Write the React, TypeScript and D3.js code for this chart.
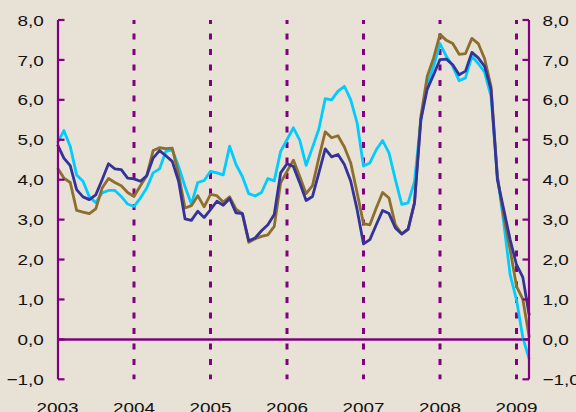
import React from "react";
import * as d3 from "d3";

const years = ["2003", "2004", "2005", "2006", "2007", "2008", "2009"];
const yTicks = [-1, 0, 1, 2, 3, 4, 5, 6, 7, 8];

const seriesCyan = [
  4.92, 5.23, 4.83, 4.12, 3.96, 3.57, 3.42, 3.67, 3.73, 3.73, 3.58, 3.39,
  3.33, 3.54, 3.79, 4.17, 4.27, 4.71, 4.75, 4.33, 3.83, 3.39, 3.93, 3.98,
  4.21, 4.17, 4.12, 4.84, 4.38, 4.08, 3.65, 3.59, 3.68, 4.03, 3.97, 4.71,
  5.0, 5.3, 4.99, 4.36, 4.81, 5.27, 6.03, 6.0, 6.22, 6.34, 6.0, 5.42,
  4.34, 4.42, 4.75, 4.98, 4.67, 4.0, 3.38, 3.42, 3.95, 5.5, 6.38, 6.84,
  7.41, 7.09, 6.84, 6.48, 6.55, 7.09, 6.91, 6.69, 6.09, 4.09, 2.92, 1.62,
  0.99, 0.04, -0.5,
];

const seriesNavy = [
  4.88, 4.54, 4.35, 3.75, 3.57, 3.5, 3.62, 4.0, 4.4, 4.27, 4.25, 4.04,
  4.02, 3.96, 4.1, 4.54, 4.73, 4.6, 4.46, 3.96, 3.02, 2.98, 3.21, 3.05,
  3.25, 3.46, 3.36, 3.53, 3.17, 3.15, 2.47, 2.54, 2.72, 2.87, 3.13, 4.17,
  4.4, 4.33, 3.92, 3.48, 3.58, 4.17, 4.77, 4.57, 4.63, 4.38, 3.96, 3.25,
  2.39, 2.5, 2.87, 3.23, 3.15, 2.79, 2.64, 2.77, 3.42, 5.5, 6.27, 6.63,
  7.01, 7.02, 6.88, 6.63, 6.72, 7.19, 7.05, 6.84, 6.26, 4.0, 3.25, 2.5,
  1.87, 1.55, 0.6,
];

const seriesBrown = [
  4.29, 4.04, 3.93, 3.23, 3.19, 3.15, 3.27, 3.79, 4.03, 3.93, 3.85, 3.68,
  3.58, 3.85, 4.1, 4.73, 4.8, 4.78, 4.79, 4.13, 3.29, 3.35, 3.6, 3.32,
  3.63, 3.6, 3.44, 3.57, 3.26, 3.15, 2.43, 2.52, 2.58, 2.62, 2.83, 3.92,
  4.21, 4.49, 4.08, 3.65, 3.85, 4.55, 5.2, 5.05, 5.1, 4.82, 4.42, 3.67,
  2.9, 2.87, 3.29, 3.68, 3.54, 2.87, 2.64, 2.75, 3.42, 5.59, 6.59, 7.05,
  7.64, 7.49, 7.41, 7.14, 7.16, 7.54, 7.41, 7.03, 6.34, 4.09, 3.08, 2.25,
  1.33, 1.0, 0.05,
];

const W = 576;
const H = 412;
const PURPLE = "#800080";
const BG = "#E8E1D6";
const FONT = "Liberation Sans, Arial, sans-serif";
const FS = 15.5;
const SX = 1.22;

export default function App() {
  const n = seriesCyan.length;
  const x = d3.scaleLinear().domain([0, n - 1]).range([57.5, 529.25]);
  const y = d3.scaleLinear().domain([-1, 8]).range([379.3, 20]);
  const xl = 58;
  const xr = 529;

  const line = d3
    .line<number>()
    .x((_, i) => x(i))
    .y((d) => y(d));

  const series = [
    { data: seriesCyan, color: "#00CCFF" },
    { data: seriesBrown, color: "#8C6E2D" },
    { data: seriesNavy, color: "#333399" },
  ];

  return (
    <svg
      width={W}
      height={H}
      style={{ position: "absolute", left: 0, top: 0, display: "block" }}
    >
      <rect x={0} y={0} width={W} height={H} fill={BG} />
      {years.slice(1).map((yr, k) => {
        const xx = x((k + 1) * 12);
        return (
          <line
            key={yr}
            x1={xx}
            x2={xx}
            y1={y(8)}
            y2={y(-1)}
            stroke={PURPLE}
            strokeWidth={3}
            strokeDasharray="6 9.5"
            strokeDashoffset={2}
          />
        );
      })}
      <line x1={xl} x2={xr} y1={y(0)} y2={y(0)} stroke={PURPLE} strokeWidth={2.5} />
      {series.map((s, i) => (
        <path
          key={i}
          d={line(s.data) || ""}
          fill="none"
          stroke={s.color}
          strokeWidth={2.8}
          strokeLinejoin="round"
        />
      ))}
      <line x1={xl} x2={xl} y1={y(8)} y2={y(-1)} stroke={PURPLE} strokeWidth={2.2} />
      <line x1={xr} x2={xr} y1={y(8)} y2={y(-1)} stroke={PURPLE} strokeWidth={2.2} />
      {yTicks.map((t) => (
        <g key={t}>
          <line x1={xl} x2={xl + 6.5} y1={y(t)} y2={y(t)} stroke={PURPLE} strokeWidth={2.2} />
          <line x1={xr - 6.5} x2={xr} y1={y(t)} y2={y(t)} stroke={PURPLE} strokeWidth={2.2} />
          <g transform={`translate(43.8, ${y(t) + 5.6}) scale(${SX},1)`}>
            <text textAnchor="end" fontFamily={FONT} fontSize={FS} fill="#111">
              {d3.format(".1f")(t).replace(".", ",")}
            </text>
          </g>
          <g transform={`translate(542.5, ${y(t) + 5.6}) scale(${SX},1)`}>
            <text textAnchor="start" fontFamily={FONT} fontSize={FS} fill="#111">
              {d3.format(".1f")(t).replace(".", ",")}
            </text>
          </g>
        </g>
      ))}
      {years.map((yr, k) => (
        <g key={yr} transform={`translate(${x(k * 12)}, 412.5) scale(${SX},1)`}>
          <text textAnchor="middle" fontFamily={FONT} fontSize={FS} fill="#111">
            {yr}
          </text>
        </g>
      ))}
    </svg>
  );
}
